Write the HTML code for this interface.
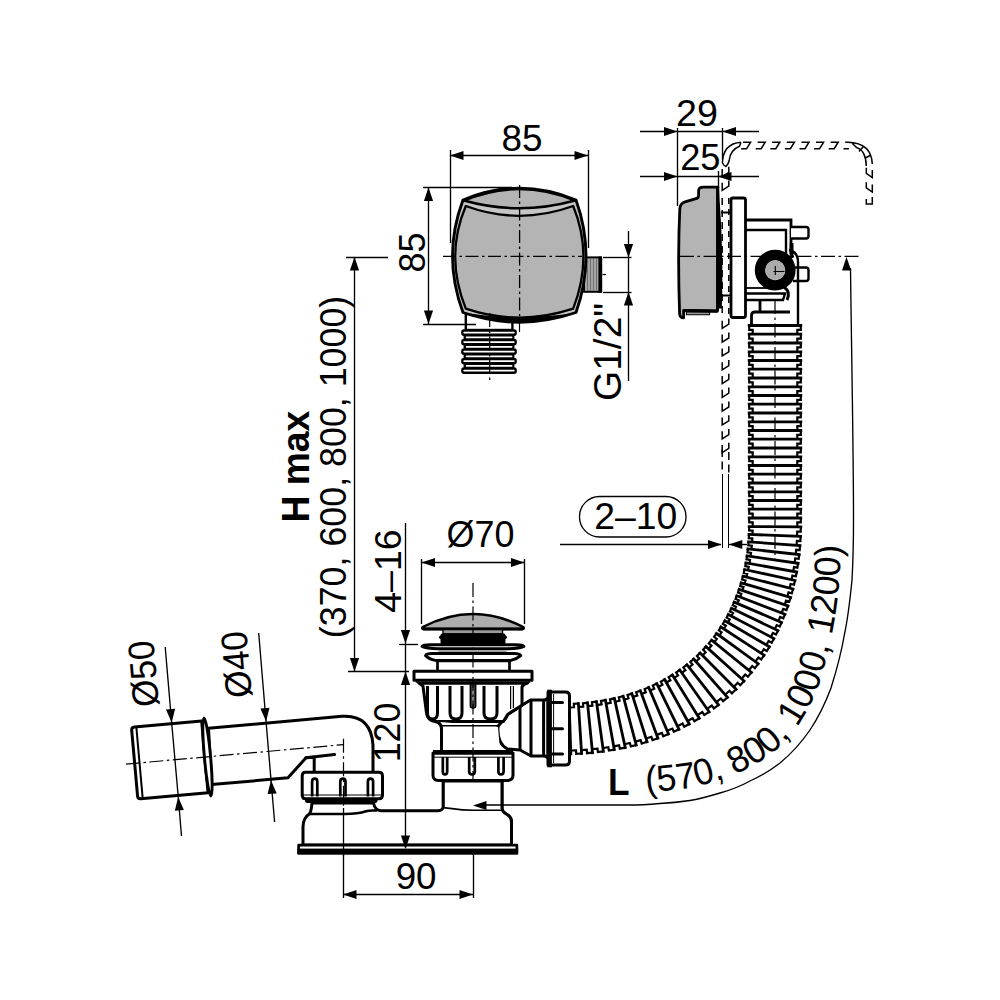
<!DOCTYPE html>
<html><head><meta charset="utf-8"><title>Drawing</title>
<style>html,body{margin:0;padding:0;background:#fff}svg{display:block}
text{font-family:"Liberation Sans",sans-serif;fill:#000}</style></head>
<body><svg width="1000" height="1000" viewBox="0 0 1000 1000">
<rect width="1000" height="1000" fill="#fff"/>
<g id="front">
<rect x="465.8" y="314" width="46.6" height="16" fill="#fff" stroke="#000" stroke-width="2.4"/>
<rect x="461.2" y="329.30" width="55.6" height="6.6" rx="2.6" fill="#000"/>
<rect x="463.6" y="334.05" width="50.8" height="6.6" rx="2.6" fill="#000"/>
<rect x="461.2" y="338.80" width="55.6" height="6.6" rx="2.6" fill="#000"/>
<rect x="463.6" y="343.55" width="50.8" height="6.6" rx="2.6" fill="#000"/>
<rect x="461.2" y="348.30" width="55.6" height="6.6" rx="2.6" fill="#000"/>
<rect x="463.6" y="353.05" width="50.8" height="6.6" rx="2.6" fill="#000"/>
<rect x="461.2" y="357.80" width="55.6" height="6.6" rx="2.6" fill="#000"/>
<rect x="463.6" y="362.55" width="50.8" height="6.6" rx="2.6" fill="#000"/>
<rect x="461.2" y="367.30" width="55.6" height="6.6" rx="2.6" fill="#000"/>
<line x1="464.2" y1="332.60" x2="513.8" y2="332.60" stroke="#fff" stroke-width="1.8" stroke-linecap="round"/>
<line x1="466.6" y1="337.35" x2="511.6" y2="337.35" stroke="#fff" stroke-width="1.8" stroke-linecap="round"/>
<line x1="464.2" y1="342.10" x2="513.8" y2="342.10" stroke="#fff" stroke-width="1.8" stroke-linecap="round"/>
<line x1="466.6" y1="346.85" x2="511.6" y2="346.85" stroke="#fff" stroke-width="1.8" stroke-linecap="round"/>
<line x1="464.2" y1="351.60" x2="513.8" y2="351.60" stroke="#fff" stroke-width="1.8" stroke-linecap="round"/>
<line x1="466.6" y1="356.35" x2="511.6" y2="356.35" stroke="#fff" stroke-width="1.8" stroke-linecap="round"/>
<line x1="464.2" y1="361.10" x2="513.8" y2="361.10" stroke="#fff" stroke-width="1.8" stroke-linecap="round"/>
<line x1="466.6" y1="365.85" x2="511.6" y2="365.85" stroke="#fff" stroke-width="1.8" stroke-linecap="round"/>
<line x1="464.2" y1="370.60" x2="513.8" y2="370.60" stroke="#fff" stroke-width="1.8" stroke-linecap="round"/>
<rect x="584" y="257.4" width="17" height="34.4" fill="#a6a6a6" stroke="#000" stroke-width="2"/>
<line x1="587.5" y1="258.5" x2="587.5" y2="290.8" stroke="#6a6a6a" stroke-width="0.9"/>
<line x1="590.5" y1="258.5" x2="590.5" y2="290.8" stroke="#6a6a6a" stroke-width="0.9"/>
<line x1="593.5" y1="258.5" x2="593.5" y2="290.8" stroke="#6a6a6a" stroke-width="0.9"/>
<line x1="596.5" y1="258.5" x2="596.5" y2="290.8" stroke="#6a6a6a" stroke-width="0.9"/>
<rect x="598.4" y="256.6" width="3.8" height="36" rx="1.2" fill="#000"/>
<line x1="602.5" y1="274.5" x2="606" y2="274.5" stroke="#000" stroke-width="1.2" />
<path d="M463,200 Q519,176.5 576,200 Q596,256 576,312.5 Q519,332 463,312.5 Q442,256 463,200 Z" fill="#c6c6c6" stroke="#000" stroke-width="2.9" stroke-linejoin="round"/>
<path d="M465.8,206 Q519,225.6 573.2,206 Q593.6,256 573.2,308.6 Q519,326.5 465.8,308.6 Q444.6,256 465.8,206 Z" fill="#b4b4b4" stroke="#000" stroke-width="2.3" stroke-linejoin="round"/>
<path d="M464,200.5 Q519,177.5 575,200.5 Q519,216 464,200.5 Z" fill="#b4b4b4" stroke="#000" stroke-width="2.6" stroke-linejoin="round"/>
<path d="M463.5,312.8 Q519,332.6 575.5,312.8 Q519,321.5 463.5,312.8 Z" fill="#000"/>
<line x1="519.5" y1="322" x2="519.5" y2="332" stroke="#000" stroke-width="1.2" />
<path d="M443,256.4 H582" stroke="#000" stroke-width="1.3" stroke-dasharray="13,3.5,2.5,3.5" fill="none"/>
<path d="M519.6,185 V322" stroke="#000" stroke-width="1.3" stroke-dasharray="13,3.5,2.5,3.5" fill="none"/>
<path d="M489.7,313 V381" stroke="#000" stroke-width="1.2" stroke-dasharray="14,3.5,2.5,3.5" fill="none"/>
</g>
<g id="side">
<path d="M743.0,142.2 H750.6 L746.6,148.7 H741.1" fill="none" stroke="#000" stroke-width="1.5"/>
<path d="M757.6,142.2 H765.2 L761.2,148.7 H755.7" fill="none" stroke="#000" stroke-width="1.5"/>
<path d="M772.2,142.2 H779.8 L775.8,148.7 H770.3" fill="none" stroke="#000" stroke-width="1.5"/>
<path d="M786.8,142.2 H794.4 L790.4,148.7 H784.9" fill="none" stroke="#000" stroke-width="1.5"/>
<path d="M801.4,142.2 H809.0 L805.0,148.7 H799.5" fill="none" stroke="#000" stroke-width="1.5"/>
<path d="M816.0,142.2 H823.6 L819.6,148.7 H814.1" fill="none" stroke="#000" stroke-width="1.5"/>
<path d="M830.6,142.2 H838.2 L834.2,148.7 H828.7" fill="none" stroke="#000" stroke-width="1.5"/>
<path d="M845.2,142.2 H848 Q871.5,143 872.3,164 M843.5,148.7 H849 M857,147.6 Q866,151 866.3,166 M852,143 L857,148 M863,147 L859,151.5 M870,155.5 L864.5,158.5" fill="none" stroke="#000" stroke-width="1.5"/>
<path d="M722.4,163 Q723,143.5 741,142.2 M729.2,160.5 Q730,150 739.5,146.2 L741,142.2 M722.4,163 Q724,166 726,166.5 Q728.5,164 729.2,160.5" fill="none" stroke="#000" stroke-width="1.5"/>
<path d="M872.3,170.0 V177.6 L866.3,173.4 V167.8" fill="none" stroke="#000" stroke-width="1.5"/>
<path d="M872.3,184.5 V192.1 L866.3,187.9 V182.3" fill="none" stroke="#000" stroke-width="1.5"/>
<path d="M872.3,197 V204 H866.3 V199" fill="none" stroke="#000" stroke-width="1.5"/>
<path d="M722.2,169.0 V176.6 L728.8,172.4 V166.8" fill="none" stroke="#000" stroke-width="1.5"/>
<path d="M722.2,182.8 V190.4 L728.8,186.2 V180.6" fill="none" stroke="#000" stroke-width="1.5"/>
<path d="M722.2,320.8 V328.4 L728.8,324.2 V318.6" fill="none" stroke="#000" stroke-width="1.5"/>
<path d="M722.2,334.6 V342.2 L728.8,338.0 V332.4" fill="none" stroke="#000" stroke-width="1.5"/>
<path d="M722.2,348.4 V356.0 L728.8,351.8 V346.2" fill="none" stroke="#000" stroke-width="1.5"/>
<path d="M722.2,362.2 V369.8 L728.8,365.6 V360.0" fill="none" stroke="#000" stroke-width="1.5"/>
<path d="M722.2,376.0 V383.6 L728.8,379.4 V373.8" fill="none" stroke="#000" stroke-width="1.5"/>
<path d="M722.2,389.8 V397.4 L728.8,393.2 V387.6" fill="none" stroke="#000" stroke-width="1.5"/>
<path d="M722.2,403.6 V411.2 L728.8,407.0 V401.4" fill="none" stroke="#000" stroke-width="1.5"/>
<path d="M722.2,417.4 V425.0 L728.8,420.8 V415.2" fill="none" stroke="#000" stroke-width="1.5"/>
<path d="M722.2,431.2 V438.8 L728.8,434.6 V429.0" fill="none" stroke="#000" stroke-width="1.5"/>
<path d="M722.2,445.0 V452.6 L728.8,448.4 V442.8" fill="none" stroke="#000" stroke-width="1.5"/>
<path d="M722.2,198 V318" fill="none" stroke="#000" stroke-width="1.5" stroke-dasharray="7,5"/>
<path d="M728.8,198 V318" fill="none" stroke="#000" stroke-width="1.5" stroke-dasharray="6,5"/>
<path d="M722.2,449 V474 M728.8,452 V474" fill="none" stroke="#000" stroke-width="1.5" stroke-dasharray="8,4.5"/>
<path d="M745,220 H791 V254" fill="none" stroke="#000" stroke-width="2.8" stroke-linejoin="miter"/>
<path d="M745,230 H786 V262" fill="none" stroke="#000" stroke-width="2.4"/>
<path d="M791,227 H806 Q808.5,227 808.5,229.5 V236 Q808.5,238.5 806,238.5 H791" fill="#fff" stroke="#000" stroke-width="2.4"/>
<path d="M793,267.5 H806 Q808.5,267.5 808.5,270 V278.5 Q808.5,281 806,281 H793" fill="#fff" stroke="#000" stroke-width="2.4"/>
<path d="M789,250 Q798,252 798,262 V326" fill="none" stroke="#000" stroke-width="2.4"/>
<path d="M791.6,243 V258" stroke="#000" stroke-width="3.8"/>
<path d="M745,293.5 H785 L783,300 H745" fill="#fff" stroke="#000" stroke-width="2.4"/>
<path d="M745,288 H770" stroke="#000" stroke-width="1.8"/>
<path d="M784,287 Q791,292 787,300" fill="none" stroke="#000" stroke-width="3"/>
<path d="M760,300.5 V312" stroke="#000" stroke-width="2.8"/>
<path d="M790,312 H755 Q751.5,312 751.5,315.5 V326" fill="none" stroke="#000" stroke-width="2.8"/>
<circle cx="775.2" cy="270.2" r="15.2" fill="none" stroke="#000" stroke-width="10.4"/>
<circle cx="775.2" cy="270.2" r="9.9" fill="#ababab"/>
<path d="M773.5,271.5 H784.5 M775.3,266 V275" stroke="#000" stroke-width="1.1"/>
<rect x="731" y="198" width="14.5" height="119.5" rx="2" fill="#fff" stroke="#000" stroke-width="2.8"/>
<path d="M717.5,187.2 H703.5 Q698.6,187.2 698.6,191 V195.5 Q698.6,198 696,198.7 L685,201.8 Q680.2,203.2 679.8,209 Q677.6,256 679.6,313.5 Q679.8,317.6 683,317.8 L683.6,317.8 V310.3 L717.5,311 Z" fill="#b4b4b4" stroke="#000" stroke-width="2.8" stroke-linejoin="round"/>
<path d="M686.4,312 H709.6 V314.8 H686.4 Z" fill="#999" stroke="#000" stroke-width="1.1"/>
<path d="M684,310.6 L717.5,311.2" stroke="#000" stroke-width="3"/>
<path d="M716.4,186.2 H719.2 L719.6,199 Q723.6,256 721.8,308.4 H716.4 Z" fill="#000"/>
<path d="M721,212.4 H731 M721,295.6 H731" stroke="#000" stroke-width="2"/>
<path d="M680,256.4 H860" stroke="#000" stroke-width="1.3" stroke-dasharray="14,3.5,2.5,3.5" fill="none"/>
</g>
<g id="hose">
<path d="M800.0,325.5 L800.0,328.1 L800.0,330.8 L800.0,333.4 L800.0,336.0 L800.0,338.7 L800.0,341.3 L800.0,343.9 L800.0,346.5 L800.0,349.2 L800.0,351.8 L800.0,354.4 L800.0,357.1 L800.0,359.7 L800.0,362.3 L800.0,365.0 L800.0,367.6 L800.0,370.2 L800.0,372.8 L800.0,375.5 L800.0,378.1 L800.0,380.7 L800.0,383.4 L800.0,386.0 L800.0,388.6 L800.0,391.3 L800.0,393.9 L800.0,396.5 L800.0,399.1 L800.0,401.8 L800.0,404.4 L800.0,407.0 L800.0,409.7 L800.0,412.3 L800.0,414.9 L800.0,417.6 L800.0,420.2 L800.0,422.8 L800.0,425.5 L800.0,428.1 L800.0,430.7 L800.0,433.3 L800.0,436.0 L800.0,438.6 L800.0,441.2 L800.0,443.9 L800.0,446.5 L800.0,449.1 L800.0,451.8 L800.0,454.4 L800.0,457.0 L800.0,459.6 L800.0,462.3 L800.0,464.9 L800.0,467.5 L800.0,470.2 L800.0,472.8 L800.0,475.4 L800.0,478.1 L800.0,480.7 L800.0,483.3 L800.0,485.9 L800.0,488.6 L800.0,491.2 L800.0,493.8 L800.0,496.5 L800.0,499.1 L800.0,501.7 L800.0,504.4 L800.0,507.0 L800.0,509.6 L800.0,512.3 L800.0,514.9 L800.0,517.5 L800.0,520.1 L800.0,522.8 L800.0,525.4 L800.0,528.3 L799.9,531.2 L799.9,534.1 L799.8,537.0 L799.6,539.9 L799.4,542.8 L799.2,545.7 L799.0,548.6 L798.7,551.5 L798.4,554.4 L798.1,557.3 L797.7,560.2 L797.3,563.1 L796.9,565.9 L796.4,568.8 L795.9,571.7 L795.4,574.6 L794.8,577.5 L794.2,580.3 L793.6,583.2 L792.9,586.1 L792.2,588.9 L791.4,591.8 L790.6,594.6 L789.8,597.4 L789.0,600.2 L788.1,603.0 L787.1,605.8 L786.2,608.6 L785.2,611.4 L784.1,614.2 L783.0,616.9 L781.9,619.7 L780.8,622.4 L779.6,625.1 L778.4,627.8 L777.1,630.5 L775.8,633.2 L774.4,635.9 L773.1,638.5 L771.6,641.1 L770.2,643.7 L768.7,646.3 L767.2,648.9 L765.6,651.4 L764.0,653.9 L762.4,656.4 L760.7,658.9 L759.0,661.3 L757.3,663.8 L755.5,666.2 L753.7,668.6 L751.8,670.9 L749.9,673.2 L748.0,675.5 L746.1,677.8 L744.1,680.0 L742.1,682.3 L740.0,684.4 L738.0,686.6 L735.8,688.7 L733.7,690.8 L731.5,692.9 L729.3,694.9 L727.1,696.9 L724.9,698.9 L722.6,700.8 L720.3,702.7 L717.9,704.6 L715.6,706.4 L713.2,708.2 L710.8,710.0 L708.3,711.7 L705.9,713.4 L703.4,715.0 L700.9,716.6 L698.4,718.2 L695.8,719.8 L693.3,721.3 L690.7,722.7 L688.1,724.2 L685.5,725.6 L682.8,727.0 L680.2,728.3 L677.5,729.6 L674.9,730.8 L672.2,732.1 L669.5,733.2 L666.7,734.4 L664.0,735.5 L661.3,736.6 L658.5,737.6 L655.8,738.6 L653.0,739.6 L650.2,740.5 L647.4,741.4 L644.6,742.3 L641.8,743.1 L639.0,743.9 L636.2,744.7 L633.4,745.5 L630.6,746.2 L627.7,746.8 L624.9,747.5 L622.1,748.1 L619.2,748.7 L616.4,749.2 L613.5,749.7 L610.7,750.2 L607.8,750.7 L605.0,751.1 L602.1,751.5 L599.3,751.8 L596.4,752.2 L593.6,752.5 L590.7,752.8 L587.9,753.0 L585.0,753.2 L582.1,753.4 L579.3,753.6 L576.4,753.8 L573.6,753.9 L570.8,754.0 L569.2,704.0 L571.7,703.9 L574.1,703.8 L576.5,703.7 L578.9,703.6 L581.3,703.4 L583.7,703.2 L586.0,703.0 L588.4,702.8 L590.8,702.5 L593.2,702.2 L595.5,701.9 L597.9,701.6 L600.2,701.2 L602.6,700.9 L604.9,700.5 L607.2,700.0 L609.6,699.6 L611.9,699.1 L614.2,698.6 L616.5,698.1 L618.8,697.6 L621.0,697.0 L623.3,696.4 L625.6,695.8 L627.8,695.2 L630.1,694.5 L632.3,693.8 L634.5,693.1 L636.7,692.3 L638.9,691.6 L641.1,690.8 L643.3,689.9 L645.4,689.1 L647.6,688.2 L649.7,687.3 L651.8,686.4 L653.9,685.4 L656.0,684.5 L658.1,683.4 L660.1,682.4 L662.2,681.4 L664.2,680.3 L666.2,679.2 L668.2,678.0 L670.1,676.9 L672.1,675.7 L674.0,674.5 L675.9,673.2 L677.8,672.0 L679.7,670.7 L681.6,669.4 L683.4,668.0 L685.2,666.6 L687.0,665.3 L688.8,663.8 L690.6,662.4 L692.3,660.9 L694.0,659.4 L695.7,657.9 L697.4,656.4 L699.0,654.8 L700.6,653.2 L702.2,651.6 L703.8,650.0 L705.3,648.3 L706.9,646.7 L708.4,645.0 L709.8,643.3 L711.3,641.5 L712.7,639.7 L714.1,638.0 L715.5,636.2 L716.9,634.3 L718.2,632.5 L719.5,630.6 L720.7,628.7 L722.0,626.8 L723.2,624.9 L724.4,623.0 L725.6,621.0 L726.7,619.0 L727.8,617.0 L728.9,615.0 L730.0,613.0 L731.0,611.0 L732.0,608.9 L733.0,606.8 L733.9,604.8 L734.8,602.7 L735.7,600.5 L736.6,598.4 L737.4,596.3 L738.3,594.1 L739.0,591.9 L739.8,589.8 L740.5,587.6 L741.2,585.4 L741.9,583.2 L742.5,580.9 L743.2,578.7 L743.7,576.5 L744.3,574.2 L744.8,572.0 L745.4,569.7 L745.8,567.4 L746.3,565.1 L746.7,562.8 L747.1,560.5 L747.5,558.2 L747.8,555.9 L748.2,553.6 L748.5,551.3 L748.7,548.9 L749.0,546.6 L749.2,544.3 L749.4,541.9 L749.5,539.6 L749.7,537.2 L749.8,534.9 L749.9,532.5 L750.0,530.1 L750.0,527.8 L750.0,525.4 L750.0,522.8 L750.0,520.1 L750.0,517.5 L750.0,514.9 L750.0,512.3 L750.0,509.6 L750.0,507.0 L750.0,504.4 L750.0,501.7 L750.0,499.1 L750.0,496.5 L750.0,493.8 L750.0,491.2 L750.0,488.6 L750.0,485.9 L750.0,483.3 L750.0,480.7 L750.0,478.1 L750.0,475.4 L750.0,472.8 L750.0,470.2 L750.0,467.5 L750.0,464.9 L750.0,462.3 L750.0,459.6 L750.0,457.0 L750.0,454.4 L750.0,451.8 L750.0,449.1 L750.0,446.5 L750.0,443.9 L750.0,441.2 L750.0,438.6 L750.0,436.0 L750.0,433.3 L750.0,430.7 L750.0,428.1 L750.0,425.5 L750.0,422.8 L750.0,420.2 L750.0,417.6 L750.0,414.9 L750.0,412.3 L750.0,409.7 L750.0,407.0 L750.0,404.4 L750.0,401.8 L750.0,399.1 L750.0,396.5 L750.0,393.9 L750.0,391.3 L750.0,388.6 L750.0,386.0 L750.0,383.4 L750.0,380.7 L750.0,378.1 L750.0,375.5 L750.0,372.8 L750.0,370.2 L750.0,367.6 L750.0,365.0 L750.0,362.3 L750.0,359.7 L750.0,357.1 L750.0,354.4 L750.0,351.8 L750.0,349.2 L750.0,346.5 L750.0,343.9 L750.0,341.3 L750.0,338.7 L750.0,336.0 L750.0,333.4 L750.0,330.8 L750.0,328.1 L750.0,325.5 Z" fill="#fff"/>
<path d="M800.8,325.5 L800.8,329.9 L797.3,329.9 L797.3,334.2 M749.2,325.5 L749.2,329.9 L752.7,329.9 L752.7,334.2 M800.8,334.2 L800.8,338.6 L797.3,338.6 L797.3,343.0 M749.2,334.2 L749.2,338.6 L752.7,338.6 L752.7,343.0 M800.8,343.0 L800.8,347.4 L797.3,347.4 L797.3,351.8 M749.2,343.0 L749.2,347.4 L752.7,347.4 L752.7,351.8 M800.8,351.8 L800.8,356.1 L797.3,356.1 L797.3,360.5 M749.2,351.8 L749.2,356.1 L752.7,356.1 L752.7,360.5 M800.8,360.5 L800.8,364.9 L797.3,364.9 L797.3,369.2 M749.2,360.5 L749.2,364.9 L752.7,364.9 L752.7,369.2 M800.8,369.2 L800.8,373.6 L797.3,373.6 L797.3,378.0 M749.2,369.2 L749.2,373.6 L752.7,373.6 L752.7,378.0 M800.8,378.0 L800.8,382.4 L797.3,382.4 L797.3,386.8 M749.2,378.0 L749.2,382.4 L752.7,382.4 L752.7,386.8 M800.8,386.8 L800.8,391.1 L797.3,391.1 L797.3,395.5 M749.2,386.8 L749.2,391.1 L752.7,391.1 L752.7,395.5 M800.8,395.5 L800.8,399.9 L797.3,399.9 L797.3,404.2 M749.2,395.5 L749.2,399.9 L752.7,399.9 L752.7,404.2 M800.8,404.2 L800.8,408.6 L797.3,408.6 L797.3,413.0 M749.2,404.2 L749.2,408.6 L752.7,408.6 L752.7,413.0 M800.8,413.0 L800.8,417.4 L797.3,417.4 L797.3,421.8 M749.2,413.0 L749.2,417.4 L752.7,417.4 L752.7,421.8 M800.8,421.8 L800.8,426.1 L797.3,426.1 L797.3,430.5 M749.2,421.8 L749.2,426.1 L752.7,426.1 L752.7,430.5 M800.8,430.5 L800.8,434.9 L797.3,434.9 L797.3,439.2 M749.2,430.5 L749.2,434.9 L752.7,434.9 L752.7,439.2 M800.8,439.2 L800.8,443.6 L797.3,443.6 L797.3,448.0 M749.2,439.2 L749.2,443.6 L752.7,443.6 L752.7,448.0 M800.8,448.0 L800.8,452.4 L797.3,452.4 L797.3,456.8 M749.2,448.0 L749.2,452.4 L752.7,452.4 L752.7,456.8 M800.8,456.8 L800.8,461.1 L797.3,461.1 L797.3,465.5 M749.2,456.8 L749.2,461.1 L752.7,461.1 L752.7,465.5 M800.8,465.5 L800.8,469.9 L797.3,469.9 L797.3,474.2 M749.2,465.5 L749.2,469.9 L752.7,469.9 L752.7,474.2 M800.8,474.2 L800.8,478.6 L797.3,478.6 L797.3,483.0 M749.2,474.2 L749.2,478.6 L752.7,478.6 L752.7,483.0 M800.8,483.0 L800.8,487.4 L797.3,487.4 L797.3,491.8 M749.2,483.0 L749.2,487.4 L752.7,487.4 L752.7,491.8 M800.8,491.8 L800.8,496.1 L797.3,496.1 L797.3,500.5 M749.2,491.8 L749.2,496.1 L752.7,496.1 L752.7,500.5 M800.8,500.5 L800.8,504.9 L797.3,504.9 L797.3,509.2 M749.2,500.5 L749.2,504.9 L752.7,504.9 L752.7,509.2 M800.8,509.2 L800.8,513.6 L797.3,513.6 L797.3,518.0 M749.2,509.2 L749.2,513.6 L752.7,513.6 L752.7,518.0 M800.8,518.0 L800.8,522.4 L797.3,522.4 L797.3,526.9 M749.2,518.0 L749.2,522.4 L752.7,522.4 L752.7,526.6 M800.8,526.9 L800.7,531.7 L797.2,531.6 L797.1,536.3 M749.2,526.6 L749.1,530.5 L752.6,530.6 L752.5,534.5 M800.6,536.4 L800.4,541.0 L796.9,540.8 L796.6,545.4 M749.0,534.4 L748.8,538.1 L752.3,538.3 L752.1,542.0 M800.0,545.6 L799.7,550.1 L796.2,549.8 L795.7,554.2 M748.6,541.8 L748.3,545.3 L751.8,545.7 L751.4,549.3 M799.2,554.6 L798.7,558.9 L795.2,558.5 L794.6,562.8 M747.9,548.9 L747.5,552.4 L751.0,552.9 L750.5,556.4 M798.1,563.3 L797.4,567.7 L794.0,567.1 L793.2,571.4 M747.0,555.9 L746.5,559.4 L750.0,559.9 L749.4,563.4 M796.7,572.0 L795.9,576.3 L792.4,575.6 L791.6,579.8 M745.9,562.8 L745.3,566.2 L748.7,566.9 L748.0,570.3 M795.0,580.5 L794.0,584.8 L790.6,584.0 L789.6,588.2 M744.6,569.5 L743.8,572.9 L747.2,573.7 L746.4,577.1 M793.0,589.0 L791.8,593.3 L788.5,592.3 L787.3,596.5 M743.0,576.2 L742.1,579.5 L745.5,580.5 L744.5,583.8 M790.6,597.5 L789.3,601.7 L786.0,600.6 L784.7,604.8 M741.2,582.8 L740.2,586.1 L743.5,587.1 L742.4,590.5 M788.0,605.9 L786.5,610.1 L783.2,608.9 L781.7,613.0 M739.1,589.3 L738.0,592.6 L741.3,593.8 L740.0,597.0 M785.0,614.2 L783.3,618.3 L780.1,617.0 L778.4,621.1 M736.8,595.8 L735.5,599.0 L738.8,600.3 L737.4,603.5 M781.6,622.4 L779.8,626.5 L776.7,625.1 L774.8,629.0 M734.2,602.1 L732.8,605.2 L736.0,606.7 L734.6,609.8 M778.0,630.6 L776.0,634.6 L772.9,633.0 L770.8,636.9 M731.4,608.3 L729.9,611.4 L733.0,613.0 L731.4,616.1 M773.9,638.5 L771.7,642.7 L768.6,641.0 L766.3,645.0 M728.3,614.4 L726.6,617.6 L729.7,619.3 L727.9,622.4 M769.4,646.8 L766.8,651.0 L763.8,649.2 L761.2,653.3 M724.9,620.7 L722.9,623.9 L725.9,625.7 L723.8,628.9 M764.1,655.2 L761.2,659.5 L758.4,657.5 L755.4,661.7 M720.9,627.0 L718.8,630.3 L721.6,632.3 L719.3,635.6 M758.2,663.7 L754.9,668.1 L752.2,666.0 L748.8,670.2 M716.5,633.5 L714.1,636.8 L716.8,639.0 L714.2,642.3 M751.5,672.4 L747.9,676.8 L745.2,674.5 L741.6,678.7 M711.6,640.1 L708.8,643.4 L711.5,645.6 L708.6,648.9 M744.1,681.0 L740.2,685.2 L737.7,682.8 L733.7,686.9 M706.0,646.6 L703.1,649.8 L705.6,652.2 L702.5,655.4 M736.1,689.3 L731.9,693.4 L729.5,690.8 L725.2,694.7 M700.1,652.9 L696.9,656.0 L699.3,658.5 L695.9,661.6 M727.5,697.3 L723.1,701.1 L720.8,698.5 L716.4,702.1 M693.7,659.0 L690.3,661.9 L692.5,664.5 L689.0,667.4 M718.5,704.8 L713.9,708.4 L711.8,705.6 L707.1,708.9 M686.9,664.7 L683.4,667.4 L685.4,670.2 L681.8,672.8 M709.1,711.8 L704.3,715.0 L702.3,712.1 L697.5,715.2 M679.8,670.0 L676.1,672.5 L678.1,675.4 L674.2,677.9 M699.3,718.2 L694.4,721.2 L692.6,718.2 L687.6,721.0 M672.4,674.9 L668.6,677.2 L670.4,680.3 L666.4,682.5 M689.3,724.0 L684.2,726.7 L682.6,723.6 L677.5,726.2 M664.7,679.5 L660.8,681.6 L662.4,684.7 L658.4,686.7 M679.0,729.3 L673.8,731.7 L672.4,728.6 L667.2,730.8 M656.8,683.6 L652.8,685.5 L654.2,688.7 L650.1,690.5 M668.5,734.0 L663.2,736.2 L661.9,732.9 L656.7,734.9 M648.7,687.4 L644.6,689.1 L645.8,692.3 L641.6,693.9 M657.9,738.2 L652.5,740.1 L651.4,736.8 L646.0,738.5 M640.4,690.7 L636.1,692.2 L637.3,695.5 L632.9,696.9 M647.1,741.8 L641.7,743.5 L640.7,740.1 L635.3,741.6 M631.9,693.6 L627.5,695.0 L628.5,698.3 L624.1,699.6 M636.2,745.0 L630.8,746.4 L629.9,743.0 L624.5,744.2 M623.2,696.2 L618.8,697.3 L619.6,700.7 L615.2,701.8 M625.3,747.6 L619.8,748.7 L619.1,745.3 L613.7,746.3 M614.4,698.4 L610.0,699.3 L610.7,702.8 L606.1,703.6 M614.3,749.7 L608.9,750.6 L608.3,747.2 L602.9,748.0 M605.5,700.2 L601.0,701.0 L601.6,704.4 L597.0,705.1 M603.4,751.4 L597.9,752.1 L597.5,748.6 L592.1,749.2 M596.5,701.7 L592.0,702.2 L592.4,705.7 L587.8,706.2 M592.5,752.7 L587.0,753.2 L586.7,749.7 L581.4,750.1 M587.5,702.8 L583.0,703.2 L583.2,706.7 L578.6,707.0 M581.6,753.5 L576.2,753.8 L576.0,750.3 L570.7,750.5 M578.4,703.5 L573.8,703.8 L574.0,707.3 L569.3,707.5" fill="none" stroke="#000" stroke-width="2.2" stroke-linejoin="miter"/>
<path d="M800.8,325.5 L749.2,325.5 M800.8,334.2 L749.2,334.2 M800.8,343.0 L749.2,343.0 M800.8,351.8 L749.2,351.8 M800.8,360.5 L749.2,360.5 M800.8,369.2 L749.2,369.2 M800.8,378.0 L749.2,378.0 M800.8,386.8 L749.2,386.8 M800.8,395.5 L749.2,395.5 M800.8,404.2 L749.2,404.2 M800.8,413.0 L749.2,413.0 M800.8,421.8 L749.2,421.8 M800.8,430.5 L749.2,430.5 M800.8,439.2 L749.2,439.2 M800.8,448.0 L749.2,448.0 M800.8,456.8 L749.2,456.8 M800.8,465.5 L749.2,465.5 M800.8,474.2 L749.2,474.2 M800.8,483.0 L749.2,483.0 M800.8,491.8 L749.2,491.8 M800.8,500.5 L749.2,500.5 M800.8,509.2 L749.2,509.2 M800.8,518.0 L749.2,518.0 M800.8,526.9 L749.2,526.6 M800.6,536.4 L749.0,534.4 M800.0,545.6 L748.6,541.8 M799.2,554.6 L747.9,548.9 M798.1,563.3 L747.0,555.9 M796.7,572.0 L745.9,562.8 M795.0,580.5 L744.6,569.5 M793.0,589.0 L743.0,576.2 M790.6,597.5 L741.2,582.8 M788.0,605.9 L739.1,589.3 M785.0,614.2 L736.8,595.8 M781.6,622.4 L734.2,602.1 M778.0,630.6 L731.4,608.3 M773.9,638.5 L728.3,614.4 M769.4,646.8 L724.9,620.7 M764.1,655.2 L720.9,627.0 M758.2,663.7 L716.5,633.5 M751.5,672.4 L711.6,640.1 M744.1,681.0 L706.0,646.6 M736.1,689.3 L700.1,652.9 M727.5,697.3 L693.7,659.0 M718.5,704.8 L686.9,664.7 M709.1,711.8 L679.8,670.0 M699.3,718.2 L672.4,674.9 M689.3,724.0 L664.7,679.5 M679.0,729.3 L656.8,683.6 M668.5,734.0 L648.7,687.4 M657.9,738.2 L640.4,690.7 M647.1,741.8 L631.9,693.6 M636.2,745.0 L623.2,696.2 M625.3,747.6 L614.4,698.4 M614.3,749.7 L605.5,700.2 M603.4,751.4 L596.5,701.7 M592.5,752.7 L587.5,702.8 M581.6,753.5 L578.4,703.5 M570.8,754.0 L569.2,704.0" fill="none" stroke="#000" stroke-width="2.8" stroke-linecap="square"/>
<path d="M775,300 V560" stroke="#000" stroke-width="1.2" stroke-dasharray="14,3.5,2.5,3.5" fill="none"/>
</g>
<g id="drain" stroke-linejoin="round">
<path d="M507.6,714.4 L520,706.5 L530.5,700 H545 L548,698 V758 L545,756 H531 L520,750 L507.6,749 Q497,744 498,727 Q499,724 506,718 Z" fill="#fff" stroke="#000" stroke-width="3"/>
<path d="M520,706.5 V750 M531,700 V756 M543.6,700 V756" fill="none" stroke="#000" stroke-width="3"/>
<path d="M548,692 H565.5 Q569.5,692 569.5,696 V761 Q569.5,765 565.5,765 H548 Z" fill="#fff" stroke="#000" stroke-width="3"/>
<path d="M549.6,692 V765" stroke="#000" stroke-width="4.6" stroke-linecap="square"/>
<path d="M553.6,694 V763" stroke="#000" stroke-width="1"/>
<path d="M552,702.4 H562.5" stroke="#000" stroke-width="3" stroke-linecap="round"/>
<path d="M552,728.8 H562.5" stroke="#000" stroke-width="3" stroke-linecap="round"/>
<path d="M552,754 H562.5" stroke="#000" stroke-width="3" stroke-linecap="round"/>
<path d="M422.6,627.2 Q473,601 523.4,627.2 Q524.4,629 522.3,629 H423.7 Q421.6,629 422.6,627.2 Z" fill="#adadad" stroke="#000" stroke-width="2.5"/>
<path d="M423,629 H523" stroke="#000" stroke-width="3"/>
<rect x="443" y="629.5" width="59.5" height="4.5" fill="#9a9a9a" stroke="#000" stroke-width="1.4"/>
<rect x="440.5" y="633.2" width="65" height="11.3" rx="2.5" fill="#000"/><rect x="439" y="635.5" width="68" height="3.4" rx="1.7" fill="#000"/>
<path d="M422.2,646.4 Q423.4,644.8 430,644.8 H516 Q522.6,644.8 523.8,646.4 Q520,648.4 508,648.7 H438 Q426,648.4 422.2,646.4 Z" fill="#fff" stroke="#000" stroke-width="3.1"/>
<rect x="438.5" y="650.3" width="68" height="2.6" fill="#9a9a9a"/>
<path d="M425.6,655.6 Q426.6,653.6 432,653.6 H514 Q519.5,653.6 520.7,655.6 Q517,659 510.8,660.4 H435.4 Q429,659 425.6,655.6 Z" fill="#fff" stroke="#000" stroke-width="3"/>
<rect x="437.5" y="661" width="72" height="10.5" fill="#fff" stroke="#000" stroke-width="2.7"/>
<path d="M419,683 L423,686 L426.5,713 Q427.5,720.5 435,721.5 H503.4 L507.6,714.4 L520,706.5 L522,705 V687 Q523,684 527.5,683 Z" fill="#fff" stroke="#000" stroke-width="3"/>
<rect x="414" y="671.2" width="118" height="9" fill="#fff" stroke="#000" stroke-width="3"/>
<path d="M416,681.5 L419.5,683.6 H527 L530,681.5" fill="none" stroke="#000" stroke-width="1.8"/>
<path d="M427.5,686 V713 Q427.5,719 432.5,719 Q437.5,719 437.5,713 V686" fill="none" stroke="#000" stroke-width="3"/>
<path d="M450,686 V713 Q450,719 456.0,719 Q462,719 462,713 V686" fill="none" stroke="#000" stroke-width="3"/>
<path d="M484,686 V713 Q484,719 490.5,719 Q497,719 497,713 V686" fill="none" stroke="#000" stroke-width="3"/>
<path d="M510.6,686 V709 M513.4,686 V708" fill="none" stroke="#000" stroke-width="1.2"/>
<path d="M470.4,684 V706 Q470.4,708 473,708 Q475.6,708 475.6,706 V684 Z" fill="#444" stroke="#000" stroke-width="1.6"/>
<path d="M473,688 V704" stroke="#bbb" stroke-width="1"/>
<path d="M435,721.5 Q441,722.5 441,728 V750 H500 L498,727" fill="#fff" stroke="none"/>
<path d="M435,721.5 Q441.5,722.5 441.5,729 V750" fill="none" stroke="#000" stroke-width="3"/>
<path d="M441.5,725.8 H499" fill="none" stroke="#000" stroke-width="1.6"/>
<path d="M433,753 V775 Q433,780.4 438.5,780.4 H507.5 Q513,780.4 513,775 V753 Z" fill="#fff" stroke="#000" stroke-width="3"/>
<path d="M433,752.2 H513" stroke="#000" stroke-width="4.4"/>
<path d="M434,757.2 H512" stroke="#000" stroke-width="1"/>
<path d="M442.8,757 V771.5 Q442.8,774.4 445,774.4 Q447.2,774.4 447.2,771.5 V757" fill="none" stroke="#000" stroke-width="2.7"/>
<path d="M469.2,757 V771.5 Q469.2,774.4 472,774.4 Q474.8,774.4 474.8,771.5 V757" fill="none" stroke="#000" stroke-width="2.7"/>
<path d="M498.4,757 V771.5 Q498.4,774.4 501,774.4 Q503.6,774.4 503.6,771.5 V757" fill="none" stroke="#000" stroke-width="2.7"/>
<path d="M443.3,781 V806 M502,781 V808 Q502,812 507,814.5 Q511.5,817 511.5,822 V845" fill="none" stroke="#000" stroke-width="3"/>
<path d="M473,583 V855" stroke="#000" stroke-width="1.2" stroke-dasharray="14,3.5,2.5,3.5" fill="none"/>
</g>
<g id="pipe" stroke-linejoin="round">
<path d="M312,803 Q311.5,810 309.8,813.5 Q303,818 303,827 V845 H511.5 V822 Q511.5,817 507,814.5 Q502,812 502,808 V781 H443.3 V806 Q443,810.7 438,810.7 H381 Q375,810.5 373.5,803 Z" fill="#fff" stroke="#000" stroke-width="3"/>
<path d="M309.5,814 H345 Q358,813.8 366,811.2 Q370,810 377,810.6" fill="none" stroke="#000" stroke-width="2.5"/>
<path d="M502,810.2 H474 Q462,810.2 452,808.6 L443.3,807.6" fill="none" stroke="#000" stroke-width="1.6"/>
<rect x="298.6" y="845.2" width="218.3" height="8" fill="#fff" stroke="#000" stroke-width="2.7"/>
<rect x="297.4" y="848.6" width="220.7" height="5.8" fill="#000"/>
<path d="M208.5,728.3 L342,716.3 Q371,714.5 373,745 V772.5 H314.2 V757.2 L306,757.8 L288,777.8 L211.5,784.6 Z" fill="#fff" stroke="#000" stroke-width="3"/>
<path d="M306,757.8 L334.5,754.6" fill="none" stroke="#000" stroke-width="3" stroke-linecap="round"/>
<g transform="rotate(-5.1 170 760)">
<path d="M205,724 H137.5 Q134.5,724 134.5,727 V793 Q134.5,796 137.5,796 H205 Z" fill="#fff" stroke="#000" stroke-width="3"/>
<path d="M139.4,724.5 V795.5" fill="none" stroke="#000" stroke-width="2"/>
<ellipse cx="207.6" cy="760.3" rx="3.1" ry="39.2" fill="#fff" stroke="#000" stroke-width="2.9"/>
</g>
<path d="M305.5,772.3 H379 Q382.5,772.3 382.5,776 V795 Q382.5,798.8 379,798.8 H305.5 Q302.2,798.8 302.2,795 V776 Q302.2,772.3 305.5,772.3 Z" fill="#fff" stroke="#000" stroke-width="3"/>
<path d="M303,795 H382" stroke="#000" stroke-width="1.1"/>
<path d="M307,800.8 H375.5" stroke="#000" stroke-width="4.2" stroke-linecap="round"/>
<path d="M312.09999999999997,796.5 V781.5 Q312.09999999999997,778.6 314.7,778.6 Q317.3,778.6 317.3,781.5 V796.5" fill="none" stroke="#000" stroke-width="2.7"/>
<path d="M340.29999999999995,796.5 V781.5 Q340.29999999999995,778.6 342.9,778.6 Q345.5,778.6 345.5,781.5 V796.5" fill="none" stroke="#000" stroke-width="2.7"/>
<path d="M367.9,796.5 V781.5 Q367.9,778.6 370.5,778.6 Q373.1,778.6 373.1,781.5 V796.5" fill="none" stroke="#000" stroke-width="2.7"/>
<path d="M126,764.1 L343.5,744.6" stroke="#000" stroke-width="1.2" stroke-dasharray="14,3.5,2.5,3.5" fill="none"/>
<path d="M343.5,738.7 V806" stroke="#000" stroke-width="1.2" stroke-dasharray="14,3.5,2.5,3.5" fill="none"/>
<line x1="343.5" y1="808" x2="343.5" y2="856" stroke="#000" stroke-width="1.3" />
</g>
<g id="dims">
<line x1="450.5" y1="150" x2="450.5" y2="243" stroke="#000" stroke-width="1.35" />
<line x1="588.5" y1="150" x2="588.5" y2="248" stroke="#000" stroke-width="1.35" />
<line x1="450" y1="155.5" x2="588" y2="155.5" stroke="#000" stroke-width="1.35" />
<polygon points="450.0,155.5 463.5,150.9 463.5,160.1" fill="#000"/>
<polygon points="588.0,155.5 574.5,160.1 574.5,150.9" fill="#000"/>
<line x1="423" y1="187.5" x2="512" y2="187.5" stroke="#000" stroke-width="1.35" />
<line x1="423" y1="324.5" x2="476" y2="324.5" stroke="#000" stroke-width="1.35" />
<line x1="428.5" y1="188" x2="428.5" y2="324" stroke="#000" stroke-width="1.35" />
<polygon points="428.5,187.6 433.1,201.1 423.9,201.1" fill="#000"/>
<polygon points="428.5,324.0 423.9,310.5 433.1,310.5" fill="#000"/>
<line x1="603" y1="257.5" x2="631.5" y2="257.5" stroke="#000" stroke-width="1.35" />
<line x1="603" y1="292.5" x2="631.5" y2="292.5" stroke="#000" stroke-width="1.35" />
<line x1="628.5" y1="257" x2="628.5" y2="292" stroke="#000" stroke-width="1.35" />
<line x1="628.5" y1="231" x2="628.5" y2="257" stroke="#000" stroke-width="1.35" />
<polygon points="628.5,257.5 623.9,244.0 633.1,244.0" fill="#000"/>
<line x1="628.5" y1="292" x2="628.5" y2="381" stroke="#000" stroke-width="1.35" />
<polygon points="628.5,292.0 633.1,305.5 623.9,305.5" fill="#000"/>
<line x1="677.5" y1="128" x2="677.5" y2="206" stroke="#000" stroke-width="1.35" />
<line x1="722.5" y1="128" x2="722.5" y2="160" stroke="#000" stroke-width="1.35" />
<line x1="640" y1="131.5" x2="677" y2="131.5" stroke="#000" stroke-width="1.35" />
<polygon points="677.5,131.5 664.0,136.1 664.0,126.9" fill="#000"/>
<line x1="722.5" y1="131.5" x2="759" y2="131.5" stroke="#000" stroke-width="1.35" />
<polygon points="722.5,131.5 736.0,126.9 736.0,136.1" fill="#000"/>
<line x1="677.5" y1="131.5" x2="722.5" y2="131.5" stroke="#000" stroke-width="1.35" />
<line x1="640" y1="176.5" x2="677" y2="176.5" stroke="#000" stroke-width="1.35" />
<polygon points="677.5,176.5 664.0,181.1 664.0,171.9" fill="#000"/>
<line x1="718" y1="176.5" x2="759" y2="176.5" stroke="#000" stroke-width="1.35" />
<polygon points="718.0,176.5 731.5,171.9 731.5,181.1" fill="#000"/>
<line x1="677.5" y1="176.5" x2="718" y2="176.5" stroke="#000" stroke-width="1.35" />
<line x1="718.5" y1="171" x2="718.5" y2="188" stroke="#000" stroke-width="1.35" />
<line x1="346" y1="257.5" x2="388" y2="257.5" stroke="#000" stroke-width="1.35" />
<line x1="348" y1="671.5" x2="409" y2="671.5" stroke="#000" stroke-width="1.35" />
<line x1="354.5" y1="257" x2="354.5" y2="671" stroke="#000" stroke-width="1.35" />
<polygon points="354.5,257.0 359.1,270.5 349.9,270.5" fill="#000"/>
<polygon points="354.5,671.5 349.9,658.0 359.1,658.0" fill="#000"/>
<line x1="405.5" y1="523" x2="405.5" y2="848" stroke="#000" stroke-width="1.35" />
<polygon points="405.5,643.5 400.9,630.0 410.1,630.0" fill="#000"/>
<polygon points="405.5,671.5 410.1,685.0 400.9,685.0" fill="#000"/>
<polygon points="405.5,849.0 400.9,835.5 410.1,835.5" fill="#000"/>
<line x1="399" y1="644.5" x2="418" y2="644.5" stroke="#000" stroke-width="1.35" />
<line x1="421.5" y1="559" x2="421.5" y2="624" stroke="#000" stroke-width="1.35" />
<line x1="524.5" y1="559" x2="524.5" y2="624" stroke="#000" stroke-width="1.35" />
<line x1="421.5" y1="562.5" x2="524.5" y2="562.5" stroke="#000" stroke-width="1.35" />
<polygon points="421.5,562.5 435.0,557.9 435.0,567.1" fill="#000"/>
<polygon points="524.5,562.5 511.0,567.1 511.0,557.9" fill="#000"/>
<line x1="560" y1="544.5" x2="721" y2="544.5" stroke="#000" stroke-width="1.35" />
<polygon points="721.5,544.5 708.0,549.1 708.0,539.9" fill="#000"/>
<line x1="729" y1="544.5" x2="747" y2="544.5" stroke="#000" stroke-width="1.35" />
<polygon points="728.8,544.5 742.3,539.9 742.3,549.1" fill="#000"/>
<line x1="722.5" y1="474" x2="722.5" y2="548" stroke="#000" stroke-width="1" />
<line x1="728.5" y1="474" x2="728.5" y2="548" stroke="#000" stroke-width="1" />
<rect x="579.5" y="496.5" width="106.5" height="40.5" rx="20" ry="20" fill="none" stroke="#000" stroke-width="1.35"/>
<line x1="343.5" y1="855" x2="343.5" y2="898" stroke="#000" stroke-width="1.35" />
<line x1="473.5" y1="855" x2="473.5" y2="898" stroke="#000" stroke-width="1.35" />
<line x1="343" y1="894.5" x2="473" y2="894.5" stroke="#000" stroke-width="1.35" />
<polygon points="343.0,894.5 356.5,889.9 356.5,899.1" fill="#000"/>
<polygon points="473.0,894.5 459.5,899.1 459.5,889.9" fill="#000"/>
<line x1="165.2" y1="647" x2="171.6" y2="722" stroke="#000" stroke-width="1.35" />
<polygon points="171.7,722.5 166.0,709.4 175.1,708.7" fill="#000"/>
<line x1="178.3" y1="797.5" x2="181.5" y2="836" stroke="#000" stroke-width="1.35" />
<polygon points="178.2,797.0 183.9,810.1 174.8,810.8" fill="#000"/>
<line x1="171.6" y1="722" x2="178.3" y2="797.5" stroke="#000" stroke-width="1.35" />
<line x1="258.7" y1="633" x2="266.0" y2="721" stroke="#000" stroke-width="1.35" />
<polygon points="266.1,721.5 260.4,708.4 269.5,707.7" fill="#000"/>
<line x1="271.1" y1="781" x2="274.6" y2="822" stroke="#000" stroke-width="1.35" />
<polygon points="271.0,780.3 276.7,793.4 267.6,794.1" fill="#000"/>
<line x1="266" y1="721" x2="271.1" y2="781" stroke="#000" stroke-width="1.35" />
<path d="M850.5,268 C851.5,350 853.5,450 853.5,520 C853.5,545 853,562 852,580 C850,600 848,618 844.5,634 C841,655 836,672 831,688 C825,704 818,718 810,730 C801,743 791,754 780,763 C771,770 761,776 750,781 C741,786 731,790 720,793 C710,796 700,799 690,800.5 C680,802 670,803 660,803.5 C650,804.3 640,805 630,805 L484,805" fill="none" stroke="#000" stroke-width="1.35"/>
<polygon points="846.5,257 842,270.5 851.2,270.5" fill="#000"/>
<polygon points="473.0,805.5 486.5,800.9 486.5,810.1" fill="#000"/>
</g>
<g id="texts">
<text transform="translate(501.52,150.63) rotate(0) scale(0.997,1)" font-size="37.0">85</text>
<text transform="translate(425.23,272.44) rotate(-90) scale(0.971,1)" font-size="37.0">85</text>
<text transform="translate(620.81,400.94) rotate(-90) scale(0.996,1)" font-size="39">G1/2"</text>
<text transform="translate(676.12,126.13) rotate(0) scale(1.017,1)" font-size="37.0">29</text>
<text transform="translate(680.19,170.13) rotate(0) scale(0.980,1)" font-size="37.0">25</text>
<text transform="translate(446.56,546.76) rotate(0) scale(0.971,1)" font-size="37.0">Ø70</text>
<text transform="translate(594.13,529.13) rotate(0) scale(1.009,1)" font-size="37.0">2–10</text>
<text transform="translate(395.66,889.13) rotate(0) scale(0.994,1)" font-size="37.0">90</text>
<text transform="translate(401.23,612.75) rotate(-90) scale(1.014,1)" font-size="37.0">4–16</text>
<text transform="translate(400.13,762.36) rotate(-90) scale(0.968,1)" font-size="37.0">120</text>
<text transform="translate(308.62,522.61) rotate(-90) scale(0.977,1)" font-size="38.2" font-weight="bold">H max</text>
<text transform="translate(346.23,638.15) rotate(-90) scale(0.968,1)" font-size="37.0">(370, 600, 800, 1000)</text>
<text transform="translate(608.03,794.50) rotate(0) scale(0.954,1)" font-size="37" font-weight="bold">L</text>
<text transform="rotate(-5 143.2 673.8) translate(156.26,706.90) rotate(-90) scale(0.948,1)" font-size="37.0">Ø50</text>
<text transform="rotate(-5 236.2 664.5) translate(249.26,697.91) rotate(-90) scale(0.956,1)" font-size="37.0">Ø40</text>
<path id="lpath" d="M559.9,792.5 L632.4,792.5 L635.3,792.4 L638.2,792.3 L641.1,792.2 L644.1,792.1 L647.0,791.9 L650.0,791.7 L653.0,791.5 L656.1,791.3 L659.1,791.0 L662.2,790.9 L665.2,790.7 L668.1,790.4 L671.1,790.2 L674.0,789.9 L676.9,789.6 L679.9,789.3 L682.8,788.9 L685.7,788.5 L688.5,788.1 L691.3,787.6 L694.1,787.1 L696.9,786.4 L699.7,785.8 L702.6,785.0 L705.5,784.2 L708.4,783.4 L711.4,782.5 L714.4,781.6 L717.5,780.7 L720.7,779.8 L723.7,778.8 L726.6,777.8 L729.5,776.8 L732.3,775.7 L735.0,774.5 L737.6,773.3 L740.3,772.0 L743.0,770.6 L746.0,769.1 L749.3,767.5 L752.4,765.9 L755.3,764.4 L758.1,762.7 L760.9,761.0 L763.7,759.3 L766.3,757.5 L768.9,755.7 L771.4,753.9 L774.2,751.6 L777.1,749.0 L780.1,746.2 L783.0,743.4 L785.8,740.4 L788.6,737.2 L791.3,734.0 L794.0,730.6 L796.7,727.2 L799.2,723.6 L801.5,720.2 L803.7,716.6 L805.8,713.0 L807.9,709.2 L809.9,705.2 L811.9,701.2 L813.8,697.0 L815.7,692.7 L817.5,688.3 L819.2,683.9 L820.6,679.2 L822.1,674.5 L823.5,669.6 L824.9,664.5 L826.3,659.3 L827.7,654.0 L828.9,648.5 L830.2,642.8 L831.3,636.8 L832.4,630.8 L833.4,626.0 L834.3,621.0 L835.1,616.0 L835.9,610.8 L836.6,605.5 L837.3,600.0 L837.9,594.4 L838.5,588.7 L839.1,583.0 L839.6,577.3 L839.9,572.0 L840.1,566.7 L840.4,561.2 L840.5,555.6 L840.7,549.9 L840.8,543.8 L840.9,537.5 L841.0,530.8 L841.0,523.7 L841.0,509.1 L840.9,486.1 L840.7,461.7 L840.4,436.2 L840.0,409.8 L839.6,383.0 L839.2,355.9 L838.8,329.0 L838.5,302.4 L838.1,276.6" fill="none"/>
<text font-size="37" textLength="360" lengthAdjust="spacingAndGlyphs"><textPath href="#lpath" startOffset="86">(570, 800, 1000, 1200)</textPath></text>
</g>
</svg></body></html>
